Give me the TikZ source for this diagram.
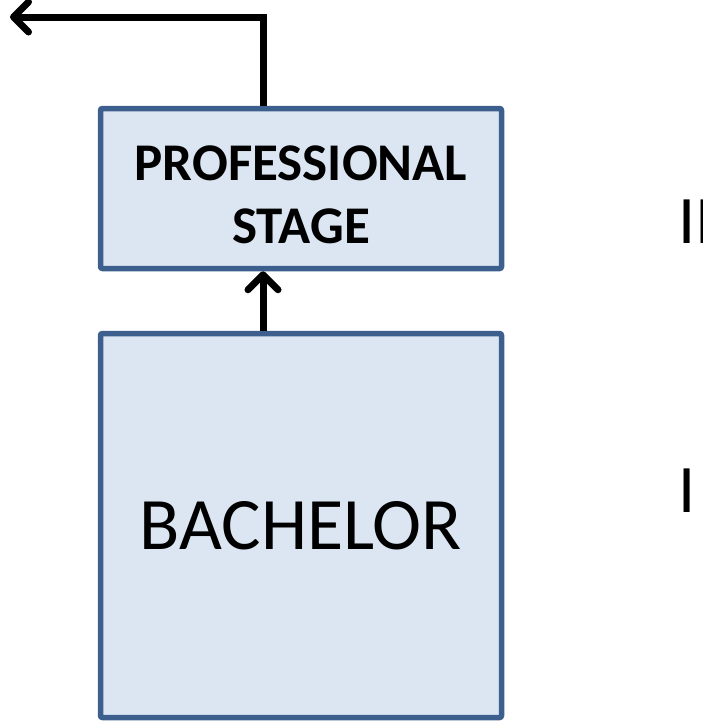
\documentclass[tikz,border=0pt]{standalone}
\usepackage{fontspec}
\setmainfont{Carlito}
\usetikzlibrary{positioning,arrows.meta}
\definecolor{boxfill}{HTML}{DCE6F2}
\definecolor{boxline}{HTML}{3C5F8E}
\tikzset{
stagebox/.style={draw=boxline, fill=boxfill, line width=5.5pt, rounded corners=2pt,
    inner sep=0pt, align=center, minimum width=401pt},
flow/.style={line width=7pt, -{Straight Barb[length=15pt,width=30pt,round]}}
}

\begin{document}
\begin{tikzpicture}[x=1pt,y=-1pt]
\useasboundingbox (0,0) rectangle (703,723);
\node[stagebox, minimum height=160pt, font=\bfseries\fontsize{53}{63}\selectfont]
    (prof) at (301,188.5) {\rule{0pt}{48pt}PROFESSIONAL\\STAGE};
\node[stagebox, minimum height=384pt, font=\fontsize{74}{80}\selectfont]
    (bach) at (301,525.5) {\raisebox{-4pt}{BACHELOR}};

\node[anchor=west, inner sep=0pt, font=\fontsize{68}{80}\selectfont] (two) at (678,222) {II};
\node[anchor=west, inner sep=0pt, font=\fontsize{68}{80}\selectfont] (one) at (678,491) {I};

\coordinate (exit) at (10,17);
\draw[flow] ([xshift=-38pt]bach.north) -- ([xshift=-38pt]prof.south);
\draw[flow] ([xshift=-38pt]prof.north) |- (exit);
\end{tikzpicture}
\end{document}
